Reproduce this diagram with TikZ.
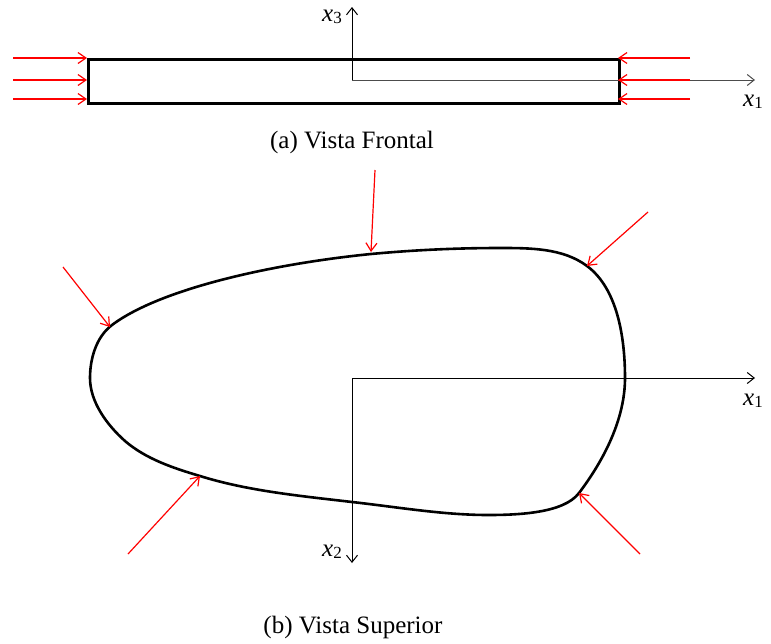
\documentclass[tikz,border=0pt]{standalone}
\usepackage{fontspec}
\setmainfont{Liberation Serif}
\usetikzlibrary{arrows.meta}
\newcommand{\axlab}[1]{{\fontsize{25}{28}\selectfont\itshape x}\raisebox{-0.5ex}{\fontsize{17}{19}\selectfont #1}}
\tikzset{
  force/.style={draw=red, line width=1.2pt, -{Straight Barb[length=8pt,width=11pt]}},
  axis/.style={draw=black, line width=1pt, -{Straight Barb[length=7pt,width=11pt]}},
  axislbl/.style={inner sep=0pt, text height=11pt, text depth=6pt, anchor=base west},
  caption/.style={font=\fontsize{25}{28}\selectfont, inner sep=0pt},
}
\begin{document}
\begin{tikzpicture}[x=1pt,y=-1pt]
\useasboundingbox (0,0) rectangle (771,643);
% ---------- (a) front view ----------
\node[draw=black, line width=3.2pt, minimum width=531pt, minimum height=44pt, inner sep=0pt, anchor=north west] (plate) at (87,58) {};
\coordinate (o3) at (352,80);
\coordinate (x3e) at (352,7);
\coordinate (x1e) at (755,80);
\draw[axis] (o3) -- (x3e);
\draw[axis, draw=black!70] (o3) -- (x1e);
\node[axislbl] (lx3) at (322,21) {\axlab{3}};
\node[axislbl] (lx1a) at (743,106) {\axlab{1}};
% left forces
\foreach \yy/\nm in {58/la,80/lb,99/lc}{
  \coordinate (\nm s) at (13,\yy);
  \coordinate (\nm e) at (87,\yy);
  \draw[force] (\nm s) -- (\nm e);
}
\foreach \yy/\nm in {58/ra,80/rb,99/rc}{
  \coordinate (\nm s) at (690,\yy);
  \coordinate (\nm e) at (618,\yy);
  \draw[force] (\nm s) -- (\nm e);
}
\node[caption] (capa) at (352,142) {(a) Vista Frontal};
% ---------- (b) top view ----------
\draw[line width=2.6pt, line join=round]
  (90,378) .. controls (90,359) and (96,337) .. (112,325)
  .. controls (160,289) and (271,264) .. (371,254)
  .. controls (414,250) and (457,248) .. (500,248)
  .. controls (530,248) and (563,248) .. (587,266)
  .. controls (618,289) and (625,339) .. (625,378)
  .. controls (625,419) and (604,460) .. (579,493)
  .. controls (564,513) and (519,515) .. (488,515)
  .. controls (443,515) and (397,507) .. (352,502)
  .. controls (301,496) and (248,491) .. (200,476)
  .. controls (173,468) and (146,459) .. (125,441)
  .. controls (107,425) and (90,402) .. cycle;
\coordinate (o) at (352,378);
\coordinate (x1b) at (755,378);
\coordinate (x2b) at (352,563);
\draw[axis] (o) -- (x1b);
\draw[axis] (o) -- (x2b);
\node[axislbl] (lx1b) at (743,405) {\axlab{1}};
\node[axislbl] (lx2) at (322,556) {\axlab{2}};
% forces on contour
\coordinate (f1s) at (375,170); \coordinate (f1e) at (371,252);
\coordinate (f2s) at (63,267);  \coordinate (f2e) at (110,327);
\coordinate (f3s) at (648,212); \coordinate (f3e) at (587,266);
\coordinate (f4s) at (128,554); \coordinate (f4e) at (200,476);
\coordinate (f5s) at (640,554); \coordinate (f5e) at (579,493);
\foreach \n in {1,...,5}{\draw[force] (f\n s) -- (f\n e);}
\node[caption] (capb) at (353,627) {(b) Vista Superior};
\end{tikzpicture}
\end{document}
